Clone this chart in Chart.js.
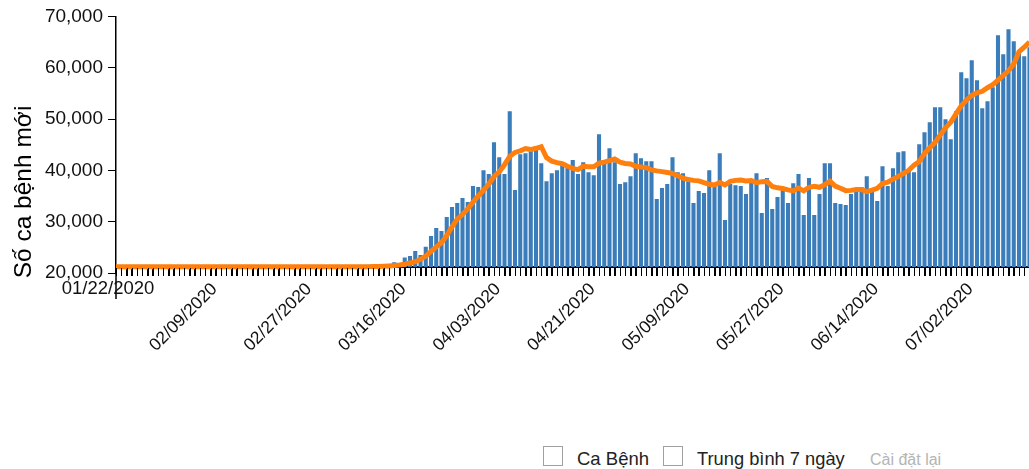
<!DOCTYPE html>
<html>
<head>
<meta charset="utf-8">
<script src="https://cdn.jsdelivr.net/npm/chart.js@4.4.0/dist/chart.umd.min.js"></script>
<style>
  html, body { margin: 0; padding: 0; width: 1029px; height: 469px; overflow: hidden; background: #fff; }
  #wrap { position: absolute; left: 0; top: 0; width: 1040px; height: 440px; }
  .lg { position: absolute; font-family: Helvetica, Arial, "Liberation Sans", sans-serif; line-height: 20px; white-space: nowrap; }
  .box { position: absolute; top: 446px; width: 18px; height: 18px; border: 1.5px solid #a0a0a0; background: #fff; }
</style>
</head>
<body>
<div id="wrap"><canvas id="chart" width="1040" height="440"></canvas></div>

<div class="box" style="left:543px"></div>
<span class="lg" style="left:577px; top:449px; font-size:18.5px; color:#222">Ca Bệnh</span>
<div class="box" style="left:663px"></div>
<span class="lg" style="left:697px; top:449px; font-size:18.3px; color:#222">Trung bình 7 ngày</span>
<span class="lg" style="left:870px; top:450px; font-size:16px; color:#b4b4b4">Cài đặt lại</span>

<script>
// daily new cases, 01/22/2020 onwards
const START_DATE = "2020-01-22";
const BASELINE = 21170; // where the x axis sits on the value scale

const daily_cases = [
  21170, 21170, 21170, 21170, 21170, 21170, 21170, 21170, 21170, 21170,
  21170, 21170, 21170, 21170, 21170, 21170, 21170, 21170, 21170, 21170,
  21170, 21170, 21170, 21170, 21170, 21170, 21170, 21170, 21170, 21170,
  21170, 21170, 21170, 21170, 21170, 21170, 21170, 21170, 21170, 21170,
  21170, 21170, 21170, 21170, 21170, 21180, 21180, 21190, 21200, 21220,
  21300, 21400, 21600, 22090, 21500, 23000, 23300, 24280, 23500, 25120,
  27200, 28760, 28170, 30900, 32840, 33620, 34600, 33820, 36930, 36740,
  40040, 39270, 45490, 42570, 39270, 51520, 36150, 43160, 43350, 43900,
  44500, 41400, 37900, 39460, 40040, 41340, 41010, 42000, 39270, 41600,
  39650, 39070, 47050, 42000, 44320, 41600, 37320, 37700, 38870, 43350,
  42380, 41790, 41790, 34400, 36540, 37320, 42570, 39650, 39450, 37900,
  33620, 35960, 35570, 40040, 36930, 43350, 30310, 37320, 37100, 36930,
  35370, 37900, 39460, 31680, 38490, 32450, 34790, 36150, 33620, 37510,
  39270, 31290, 38490, 31290, 35370, 41400, 41400, 33620, 33430, 33230,
  35370, 35960, 36740, 38870, 36150, 34010, 40820, 36930, 40430, 43540,
  43740, 40240, 39650, 45100, 47440, 49380, 52300, 52300, 49970, 46080,
  51520, 59110, 57940, 61450, 57560, 52100, 53470, 56190, 66310, 62610,
  67480, 65150, 63400, 62230, 64000
];

const avg_7day = [
  21200, 21200, 21200, 21200, 21200, 21200, 21200, 21200, 21200, 21200,
  21200, 21200, 21200, 21200, 21200, 21200, 21200, 21200, 21200, 21200,
  21200, 21200, 21200, 21200, 21200, 21200, 21200, 21200, 21200, 21200,
  21200, 21200, 21200, 21200, 21200, 21200, 21200, 21200, 21200, 21200,
  21200, 21200, 21200, 21200, 21200, 21200, 21200, 21200, 21220, 21250,
  21280, 21320, 21380, 21450, 21550, 21700, 21950, 22200, 22650, 23300,
  24200, 25100, 25900, 27300, 29000, 30500, 31400, 32500, 33800, 35000,
  36100, 37300, 38800, 39700, 41100, 42700, 43500, 43800, 44250, 44050,
  44300, 44600, 42500, 41800, 41500, 41300, 40800, 40400, 40150, 40800,
  40700, 40700, 41400, 41600, 41900, 42200, 41600, 41350, 41250, 40800,
  40650, 40500, 40100, 39900, 39750, 39600, 39400, 38950, 38500, 38200,
  38050, 37950, 37600, 37300, 37150, 37650, 37150, 37850, 38050, 38100,
  37950, 38000, 37600, 37800, 37850, 36850, 36600, 36450, 36200, 36000,
  36550, 36000, 36700, 36900, 36700, 37200, 37900, 36950, 36500, 36050,
  36100, 36250, 36250, 35850, 36150, 36500, 37450, 37700, 38300, 38800,
  39400, 40000, 41000, 41700, 43300, 44400, 45400, 46900, 48300, 49400,
  51000, 52600, 53700, 54600, 55100, 55400, 56100, 56700, 57600, 58500,
  59400, 60700, 63100, 64000, 65000
];

const y_ticks = [20000, 30000, 40000, 50000, 60000, 70000];
const LABEL_STEP = 18; // one date label every 18 days

// date strings mm/dd/yyyy
const dates = [];
let d = new Date(START_DATE + "T00:00:00Z");
for (let i = 0; i < daily_cases.length; i++) {
  const mm = String(d.getUTCMonth() + 1).padStart(2, "0");
  const dd = String(d.getUTCDate()).padStart(2, "0");
  dates.push(mm + "/" + dd + "/" + d.getUTCFullYear());
  d.setUTCDate(d.getUTCDate() + 1);
}

const FONT = "Helvetica, Arial, 'Liberation Sans', sans-serif";

// extras the d3 original had: long y axis line, day ticks, flat first date, axis title
const extras = {
  id: "extras",
  afterDraw(chart) {
    const ctx = chart.ctx;
    const area = chart.chartArea;
    const xs = chart.scales.x;
    const axisY = chart.scales.y.getPixelForValue(BASELINE);
    ctx.save();
    ctx.strokeStyle = "#000";
    ctx.lineWidth = 1.5;
    ctx.beginPath();
    ctx.moveTo(area.left, area.bottom);
    ctx.lineTo(area.left, 299);
    ctx.stroke();

    // one tick per day under the x axis
    ctx.lineWidth = 1;
    ctx.beginPath();
    for (let i = 0; i < dates.length; i++) {
      const x = Math.round(xs.getPixelForTick(i)) + 0.5;
      ctx.moveTo(x, axisY + 1);
      ctx.lineTo(x, axisY + 9);
    }
    ctx.stroke();

    ctx.fillStyle = "#111";
    ctx.font = "18.5px " + FONT;
    ctx.textAlign = "center";
    ctx.textBaseline = "middle";
    ctx.fillText(dates[0], area.left - 8, 289);

    ctx.translate(24, 192);
    ctx.rotate(-Math.PI / 2);
    ctx.font = "24.5px " + FONT;
    ctx.fillStyle = "#000";
    ctx.fillText("Số ca bệnh mới", 0, 0);
    ctx.restore();
  }
};

const ctx = document.getElementById("chart");
const myChart = new Chart(ctx, {
  data: {
    labels: dates,
    datasets: [
      {
        type: "line",
        label: "Trung bình 7 ngày",
        data: avg_7day,
        borderColor: "#ff7f0e",
        borderWidth: 5,
        pointRadius: 0,
        tension: 0,
        order: 0,
      },
      {
        type: "bar",
        label: "Ca Bệnh",
        data: daily_cases,
        base: BASELINE,
        backgroundColor: "#3a7dba",
        barPercentage: 0.78,
        categoryPercentage: 1,
        order: 1,
      },
    ],
  },
  options: {
    responsive: false,
    animation: false,
    layout: { padding: { top: 16, right: 10.5, bottom: 167, left: 0 } },
    plugins: { legend: { display: false }, tooltip: { enabled: false } },
    scales: {
      x: {
        type: "category",
        offset: false,
        position: { y: BASELINE },
        afterFit(scale) { scale.paddingLeft = 0; scale.paddingRight = 0; },
        grid: { drawOnChartArea: false, drawTicks: true, tickLength: 8, color: "#000", offset: false },
        border: { color: "#000", width: 2 },
        ticks: {
          autoSkip: false,
          minRotation: 45,
          maxRotation: 45,
          padding: 4,
          labelOffset: 4,
          color: "#111",
          font: { size: 17.5, family: FONT },
          callback: function (v, i) {
            return i > 0 && i % LABEL_STEP === 0 ? dates[i] : "";
          },
        },
      },
      y: {
        min: y_ticks[0],
        max: y_ticks[y_ticks.length - 1],
        afterFit(scale) { scale.width = 116; },
        afterBuildTicks(scale) { scale.ticks = y_ticks.map(v => ({ value: v })); },
        grid: { drawOnChartArea: false, drawTicks: true, tickLength: 8, color: "#000" },
        border: { color: "#000", width: 1.5 },
        ticks: {
          padding: 5,
          color: "#111",
          font: { size: 19, family: FONT },
          callback: v => v.toLocaleString("en-US"),
        },
      },
    },
  },
  plugins: [extras],
});
</script>
</body>
</html>
